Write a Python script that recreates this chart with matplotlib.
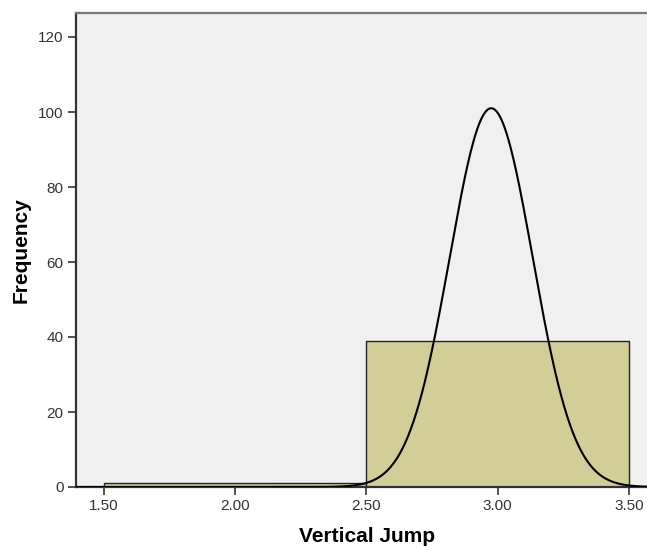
import numpy as np
import matplotlib
matplotlib.use("Agg")
import matplotlib.pyplot as plt

plt.rcParams['font.family'] = ['Liberation Sans', 'DejaVu Sans']

bin_edges = [1.5, 2.5, 3.5]
counts = [1, 39]
curve_mean = 2.975
curve_sd = 0.158
n_total = 40
xticks = [1.5, 2.0, 2.5, 3.0, 3.5]
xtick_labels = ["1.50", "2.00", "2.50", "3.00", "3.50"]
yticks = [0, 20, 40, 60, 80, 100, 120]

fig = plt.figure(figsize=(6.47, 5.5), dpi=100)
ax = fig.add_axes([76/647, 63/550, 1 - 76/647, (487-13)/550])
ax.set_facecolor('#F0F0F0')

widths = np.diff(bin_edges)
ax.bar(bin_edges[:-1], counts, width=widths, align='edge', color='#D3CE97',
       edgecolor='#222222', linewidth=1.0, zorder=2)

xlim = (1.5 - 28/262.6, 3.5 + 18/262.6)
xs = np.linspace(xlim[0], xlim[1], 600)
bw = widths[0]
ys = n_total * bw / (curve_sd * np.sqrt(2*np.pi)) * np.exp(-0.5*((xs-curve_mean)/curve_sd)**2)
ax.plot(xs, ys, color='black', linewidth=1.5, zorder=3)

ax.set_xlim(*xlim)
ax.set_ylim(0, 126.4)
ax.set_xticks(xticks)
ax.set_xticklabels(xtick_labels)
ax.set_yticks(yticks)
ax.tick_params(axis='both', direction='out', length=6, width=1.2, color='#333333',
               labelsize=11, labelcolor='#333333', pad=3)
ax.spines['left'].set_color('#333333')
ax.spines['bottom'].set_color('#333333')
ax.spines['top'].set_color('#777777')
for s in ['left', 'bottom', 'top']:
    ax.spines[s].set_linewidth(1.6)
ax.spines['right'].set_visible(False)

ax.set_xlabel('Vertical Jump', fontsize=15, fontweight='bold', labelpad=12)
ax.set_ylabel('Frequency', fontsize=15, fontweight='bold', labelpad=8)
ax.xaxis.set_label_coords(0.51, -0.085)
ax.yaxis.set_label_coords(-0.079, 0.5)

fig.savefig('out.png', dpi=100)
